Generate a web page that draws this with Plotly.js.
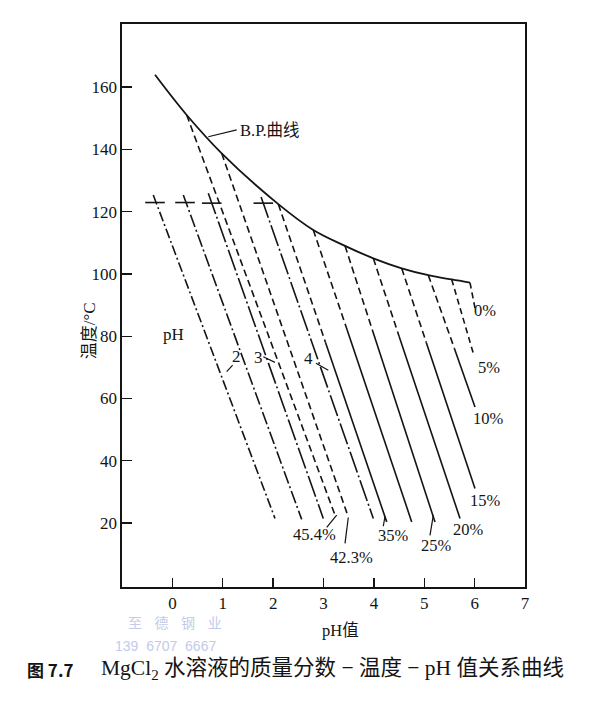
<!DOCTYPE html>
<html>
<head>
<meta charset="utf-8">
<script src="https://cdn.plot.ly/plotly-3.0.1.min.js"></script>
<style>html,body{margin:0;padding:0;background:#fff}#chart{width:600px;height:703px}</style>
</head>
<body>
<div id="chart"></div>
<script>
// Boiling-point (B.P.) curve
const bpPH = [-0.345, 0.284, 0.979, 2.103, 2.797, 3.427, 3.989, 4.552, 5.080, 5.545, 5.908];
const bpT  = [163.9, 151.0, 138.7, 122.4, 114.1, 109.0, 105.0, 101.8, 99.6, 98.2, 97.2];

// Mass-fraction lines (top point, optional dash->solid break point, bottom point)
const lineLabels = ["a", "b", "c", "f", "45.4%", "42.3%", "35%", "30%", "25%", "20%", "15%", "10%", "5%", "0%"];
const topPH    = [-0.379, 0.217, 0.713, 1.761, 0.284, 0.979, 2.103, 2.797, 3.427, 3.989, 4.552, 5.080, 5.545, 5.908];
const topT     = [125.3, 125.3, 125.9, 124.7, 151.0, 138.7, 122.4, 114.1, 109.0, 105.0, 101.8, 99.6, 98.2, 97.2];
const breakPH  = [null, null, null, null, null, null, 3.04, 3.47, 3.97, 4.50, 5.04, 5.60, null, null];
const breakT   = [null, null, null, null, null, null, 78, 82, 82, 80, 78, 76, null, null];
const bottomPH = [2.037, 2.567, 2.996, 3.989, 3.228, 3.492, 4.255, 4.751, 5.213, 5.710, 6.007, 6.007, 5.974, 6.020];
const bottomT  = [21.5, 21.2, 21.5, 21.5, 22.6, 22.0, 20.4, 20.4, 20.4, 21.5, 31.1, 57.3, 74.5, 88.0];
const lineDash = ["10px,3px,2px,3px", "13px,3px,2px,3px", "22px,3px,2px,3px", "22px,3px,2px,3px",
                  "7px,4px", "7px,4px", "7px,4px", "7px,4px", "7px,4px", "7px,4px", "7px,4px", "7px,4px", "6px,4px", "6px,4px"];

// "+" cross marks at the top of the dash-dot lines
const crossPH = [-0.345, 0.251, 0.781, 1.805];
const crossT  = [122.9, 122.9, 122.7, 122.7];

// Axis ticks
const xTicks = [0, 1, 2, 3, 4, 5, 6, 7];
const yTicks = [20, 40, 60, 80, 100, 120, 140, 160];

const INK = "#141414";
const serif = "Liberation Serif, Noto Sans CJK SC, serif";

const traces = [];
traces.push({x: bpPH, y: bpT, mode: "lines", line: {color: INK, width: 1.8, shape: "spline", smoothing: 1}, hoverinfo: "skip"});
for (let i = 0; i < lineLabels.length; i++) {
  if (breakPH[i] === null) {
    traces.push({x: [topPH[i], bottomPH[i]], y: [topT[i], bottomT[i]], mode: "lines",
      line: {color: INK, width: 1.6, dash: lineDash[i]}, hoverinfo: "skip"});
  } else {
    traces.push({x: [topPH[i], breakPH[i]], y: [topT[i], breakT[i]], mode: "lines",
      line: {color: INK, width: 1.6, dash: lineDash[i]}, hoverinfo: "skip"});
    traces.push({x: [breakPH[i], bottomPH[i]], y: [breakT[i], bottomT[i]], mode: "lines",
      line: {color: INK, width: 1.6}, hoverinfo: "skip"});
  }
}
traces.push({x: crossPH, y: crossT, mode: "markers",
  marker: {symbol: "line-ew", size: 14, line: {color: INK, width: 1.6}}, hoverinfo: "skip"});

function seg(x0, y0, x1, y1) {
  return {type: "line", xref: "x", yref: "y", x0: x0, y0: y0, x1: x1, y1: y1, line: {color: INK, width: 1.2}};
}
const shapes = [
  seg(0.713, 144.0, 1.277, 146.2),
  seg(1.197, 70.7, 1.078, 68.6),
  seg(1.805, 73.4, 2.037, 71.6),
  seg(2.851, 71.3, 3.095, 69.1),
  seg(3.064, 18.6, 3.262, 22.6),
  seg(3.427, 13.5, 3.492, 21.8),
  seg(4.187, 19.0, 4.221, 22.2),
  seg(5.114, 16.1, 5.180, 22.6)
];

function lab(text, x, y, size, anchor) {
  return {text: text, x: x, y: y, xref: "x", yref: "y", showarrow: false,
    xanchor: anchor || "center", yanchor: "middle", font: {family: serif, size: size || 16.5, color: INK}};
}
function paperText(text, x, y, size, family, color, anchor, angle) {
  const a = {text: text, xref: "paper", yref: "paper", x: x, y: y, showarrow: false,
    xanchor: anchor || "center", yanchor: "middle", font: {family: family, size: size, color: color || INK}};
  if (angle !== undefined) a.textangle = angle;
  return a;
}
const annotations = [
  lab("B.P.曲线", 1.30, 145.9, 16.5, "left"),
  lab("0%", 6.206, 88.1), lab("5%", 6.276, 69.8), lab("10%", 6.285, 53.7), lab("15%", 6.206, 27.4),
  lab("20%", 5.869, 17.8), lab("25%", 5.247, 12.9), lab("35%", 4.390, 16.1),
  lab("42.3%", 3.546, 9.1), lab("45.4%", 2.831, 16.5),
  lab("pH", 0.032, 80.7, 17), lab("2", 1.263, 73.6, 17), lab("3", 1.700, 73.3, 17), lab("4", 2.712, 72.7, 17),
  paperText("温度/°C", -0.082, 0.456, 17, serif, INK, "center", -90),
  paperText("pH值", 0.543, -0.0764, 16.5, serif),
  paperText("<b>图 7.7</b>", -0.2407, -0.1474, 17, "Noto Sans CJK SC, sans-serif", INK, "left"),
  paperText("MgCl<sub>2</sub> 水溶液的质量分数 − 温度 − pH 值关系曲线", -0.0571, -0.1474, 21.5, serif, INK, "left"),
  paperText("至    德    钢    业", 0.010, -0.0625, 14, "Noto Sans CJK SC, sans-serif", "#c3cbea", "left"),
  paperText("139  6707  6667", -0.022, -0.1050, 14, "Liberation Sans, sans-serif", "#c3cbea", "left")
];

const layout = {
  width: 600, height: 703,
  margin: {l: 122, r: 75, t: 24, b: 116, pad: 0},
  paper_bgcolor: "#ffffff", plot_bgcolor: "#ffffff",
  showlegend: false,
  xaxis: {range: [-1, 7], tickvals: xTicks, ticktext: xTicks.map(String), ticks: "inside", ticklen: 9,
    tickwidth: 1.3, tickcolor: INK, showline: true, mirror: true, linecolor: INK, linewidth: 1.6,
    showgrid: false, zeroline: false, tickfont: {family: serif, size: 17, color: INK}},
  yaxis: {range: [-0.5, 180.2], tickvals: yTicks, ticktext: yTicks.map(String), ticks: "inside", ticklen: 10,
    tickwidth: 1.3, tickcolor: INK, showline: true, mirror: true, linecolor: INK, linewidth: 1.6,
    showgrid: false, zeroline: false, tickfont: {family: serif, size: 17, color: INK}},
  shapes: shapes,
  annotations: annotations
};

Plotly.newPlot("chart", traces, layout, {staticPlot: true, displayModeBar: false});
</script>
</body>
</html>
